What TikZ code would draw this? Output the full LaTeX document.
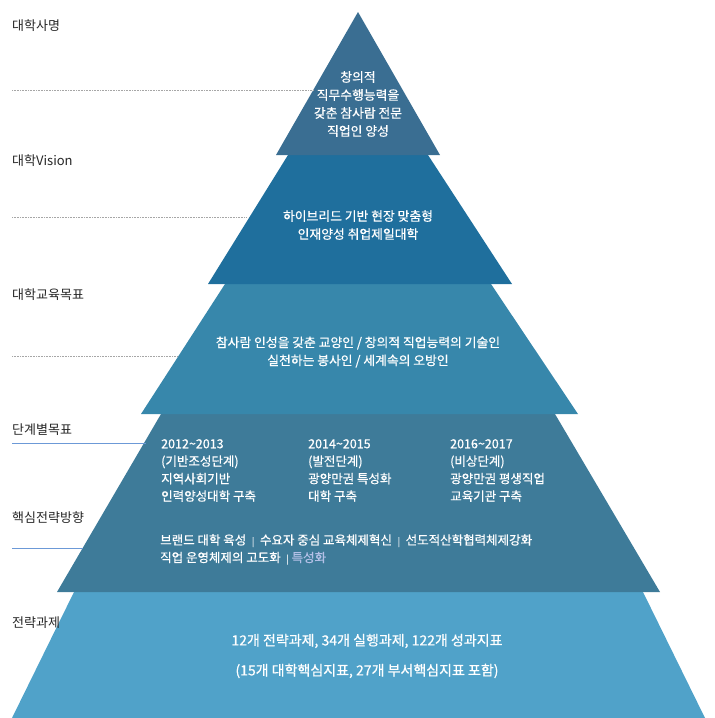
\documentclass[tikz,border=0pt]{standalone}
\usepackage{fontspec}
\setmainfont{Noto Sans CJK KR}
\newfontfamily\wfont[FakeBold=0.6]{Noto Sans CJK KR}
\begin{document}
\begin{tikzpicture}[x=1pt,y=-1pt,
  lab/.style={anchor=west,font=\fontsize{13}{15}\selectfont,text=black!85,inner sep=0},
  wt/.style={text=white,font=\wfont\fontsize{12.8}{18}\selectfont,align=center,inner sep=0},
  wl/.style={text=white,font=\wfont\fontsize{12.5}{17.5}\selectfont,align=left,anchor=north west,inner sep=0},
  dl/.style={gray!70,densely dotted,line width=0.6pt},
  bl/.style={cyan!50!blue!60,line width=0.7pt}]
\useasboundingbox (0,0) rectangle (715,718);
\definecolor{c1}{HTML}{3A6E92}
\definecolor{c2}{HTML}{1F6F9D}
\definecolor{c3}{HTML}{3787AB}
\definecolor{c4}{HTML}{3E7B99}
\definecolor{c5}{HTML}{50A2C9}
% bands
\fill[c5] (74,592) -- (12,718) -- (705,718) -- (643,592) -- cycle;
\fill[c4] (161,414) -- (57,592) -- (660,592) -- (555,414) -- cycle;
\fill[c3] (225,284) -- (141,414) -- (578,414) -- (491,284) -- cycle;
\fill[c2] (288,155) -- (208,284) -- (512,284) -- (428,155) -- cycle;
\fill[c1] (358,12) -- (276,155) -- (440,155) -- cycle;
% left lines
\draw[dl] (12,90) -- (313,90);
\draw[dl] (12,217) -- (247,217);
\draw[dl] (12,356) -- (178,356);
\draw[bl] (12,443) -- (146,443);
\draw[bl] (12,548) -- (83,548);
% labels
\node[lab] (l1) at (12,26) {대학사명};
\node[lab] (l2) at (12,161) {대학Vision};
\node[lab] (l3) at (12,295) {대학교육목표};
\node[lab] (l4) at (12,430) {단계별목표};
\node[lab] (l5) at (12,518) {핵심전략방향};
\node[lab] (l6) at (12,623) {전략과제};
% texts
\node[wt] (t1) at (358,104) {창의적\\직무수행능력을\\갖춘 참사람 전문\\직업인 양성};
\node[wt] (t2) at (358,225) {하이브리드 기반 현장 맞춤형\\인재양성 취업제일대학};
\node[wt] (t3) at (358,352) {참사람 인성을 갖춘 교양인 / 창의적 직업능력의 기술인\\실천하는 봉사인 / 세계속의 오방인};
\node[wl] (a) at (161,439) {2012\textasciitilde2013\\(기반조성단계)\\지역사회기반\\인력양성대학 구축};
\node[wl] (b) at (308,439) {2014\textasciitilde2015\\(발전단계)\\광양만권 특성화\\대학 구축};
\node[wl] (c) at (450,439) {2016\textasciitilde2017\\(비상단계)\\광양만권 평생직업\\교육기관 구축};
\node[wl] (d) at (160,534) {브랜드 대학 육성 \ {\small |} \ 수요자 중심 교육체제혁신 \ {\small |} \ 선도적산학협력체제강화\\직업 운영체제의 고도화 \ {\small |} \textcolor{cyan!40!blue!30!white}{특성화}};
\node[wt,font=\wfont\fontsize{14}{30}\selectfont] (t5) at (367,656) {12개 전략과제, 34개 실행과제, 122개 성과지표\\(15개 대학핵심지표, 27개 부서핵심지표 포함)};
\end{tikzpicture}
\end{document}
